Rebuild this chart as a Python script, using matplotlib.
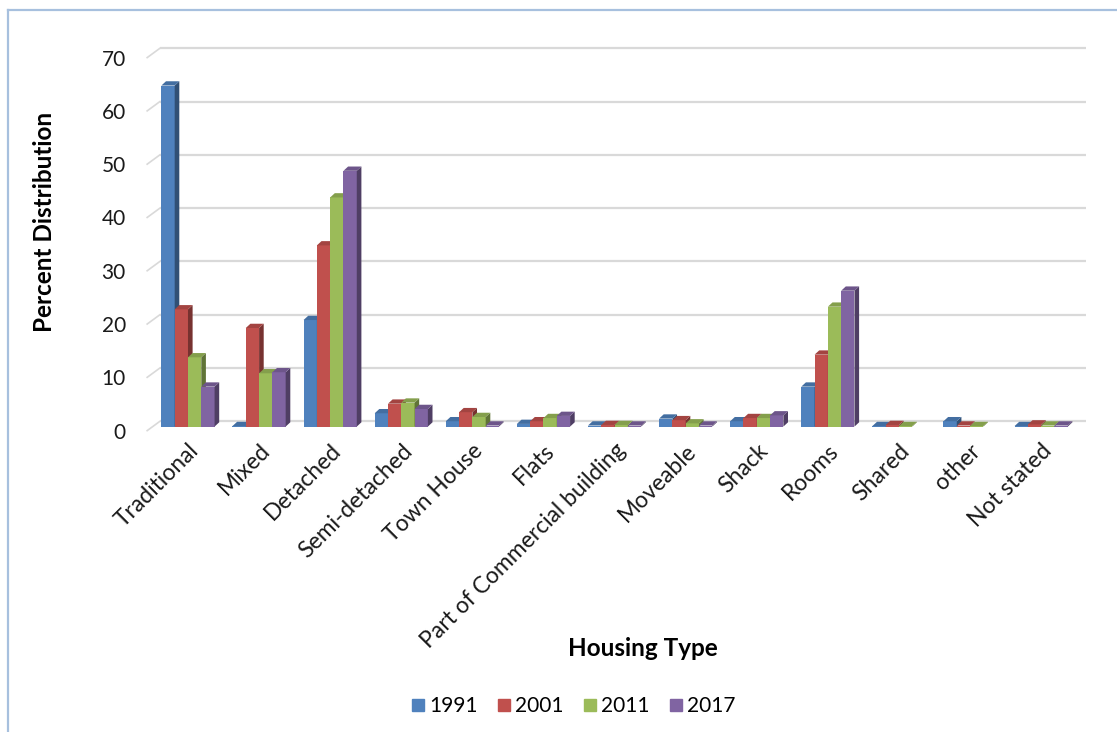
import numpy as np
import matplotlib.pyplot as plt
from matplotlib.patches import Polygon
from matplotlib.lines import Line2D
from matplotlib.colors import to_rgb

categories = ['Traditional', 'Mixed', 'Detached', 'Semi-detached', 'Town House', 'Flats',
              'Part of Commercial building', 'Moveable', 'Shack', 'Rooms', 'Shared',
              'other', 'Not stated']
years = ['1991', '2001', '2011', '2017']
y1991 = [64, 0.1, 20, 2.5, 1.0, 0.5, 0.2, 1.5, 1.0, 7.5, 0.1, 1.0, 0.1]
y2001 = [22, 18.5, 34, 4.3, 2.7, 1.0, 0.3, 1.2, 1.6, 13.5, 0.3, 0.2, 0.4]
y2011 = [13, 10, 43, 4.5, 1.8, 1.6, 0.3, 0.6, 1.6, 22.5, 0.1, 0.1, 0.2]
y2017 = [7.5, 10.2, 48, 3.3, 0.2, 2.0, 0.2, 0.2, 2.1, 25.5, np.nan, np.nan, 0.2]
colors = ['#4F81BD', '#C0504D', '#9BBB59', '#8064A2']
yticks = [0, 10, 20, 30, 40, 50, 60, 70]

# fake 3d look (excel style)
BAR_W = 0.187
DX, DY = 0.065, 0.8        # bar depth
BASE = -1.0                # bar front bottom
WALL_X, WALL_Y = 0.18, 1.76  # back wall offset
GRID_X0 = -0.394


def shade(c, f):
    r, g, b = to_rgb(c)
    return (r * f, g * f, b * f)


def main():
    plt.rcParams['font.family'] = ['Lato', 'DejaVu Sans']
    fig = plt.figure(figsize=(11.17, 7.32), dpi=100)
    ax = fig.add_axes([0.1301, 0.4085, 0.8434, 0.5329])

    x = np.arange(len(categories))
    ax.set_xlim(-0.6, 12.65)
    ax.set_ylim(-2.2, 71)

    # gridlines on back wall + little diagonals on the side wall
    for v in yticks:
        ax.plot([GRID_X0, 12.63], [v, v], color='#D9D9D9', lw=1.6, zorder=0,
                solid_capstyle='butt')
        ax.plot([GRID_X0 - WALL_X, GRID_X0], [v - WALL_Y, v], color='#D9D9D9', lw=1.2,
                zorder=0)

    series = [y1991, y2001, y2011, y2017]
    for i, vals in enumerate(series):
        vals = np.array(vals, dtype=float)
        xs = x + (i - 1.5) * BAR_W
        ok = ~np.isnan(vals)
        ax.bar(xs[ok], vals[ok], width=BAR_W, bottom=BASE, color=colors[i],
               edgecolor='none', zorder=2)
        for xc, v in zip(xs[ok], vals[ok]):
            x0, x1 = xc - BAR_W / 2, xc + BAR_W / 2
            top = BASE + v
            side = [(x1, BASE), (x1 + DX, BASE + DY), (x1 + DX, top + DY), (x1, top)]
            cap = [(x0, top), (x0 + DX, top + DY), (x1 + DX, top + DY), (x1, top)]
            ax.add_patch(Polygon(side, closed=True, color=shade(colors[i], 0.62), lw=0,
                                 zorder=2))
            ax.add_patch(Polygon(cap, closed=True, color=shade(colors[i], 0.85), lw=0,
                                 zorder=2))

    for s in ax.spines.values():
        s.set_visible(False)
    ax.set_yticks([v - WALL_Y for v in yticks])
    ax.set_yticklabels([str(v) for v in yticks], fontsize=15, color='#1a1a1a')
    ax.tick_params(axis='y', length=0, pad=14)
    ax.set_xticks(x)
    ax.set_xticklabels(categories, rotation=45, ha='right', va='top',
                       rotation_mode='anchor', fontsize=16.5, color='#1a1a1a')
    ax.tick_params(axis='x', length=0, pad=5)

    fig.text(45 / 1117, 1 - 222 / 732, 'Percent Distribution', rotation=90, fontsize=17.5,
             fontweight='bold', ha='center', va='center')
    fig.text(643 / 1117, 1 - 648 / 732, 'Housing Type', fontsize=17.5, fontweight='bold',
             ha='center', va='center')

    handles = [Line2D([], [], marker='s', ls='none', color=c, markersize=9) for c in colors]
    fig.legend(handles, years, loc='center', bbox_to_anchor=(574 / 1117, 1 - 706 / 732),
               ncol=4, frameon=False, fontsize=15, handlelength=0.5, handletextpad=0.3,
               columnspacing=1.0)

    # chart border (left + top visible)
    bx, by = 8 / 1117, 1 - 10 / 732
    fig.add_artist(Line2D([bx, bx], [0, by], color='#A7C0DE', lw=1.6))
    fig.add_artist(Line2D([bx, 1], [by, by], color='#A7C0DE', lw=1.6))

    fig.savefig('out.png', dpi=100)


if __name__ == "__main__":
    main()
